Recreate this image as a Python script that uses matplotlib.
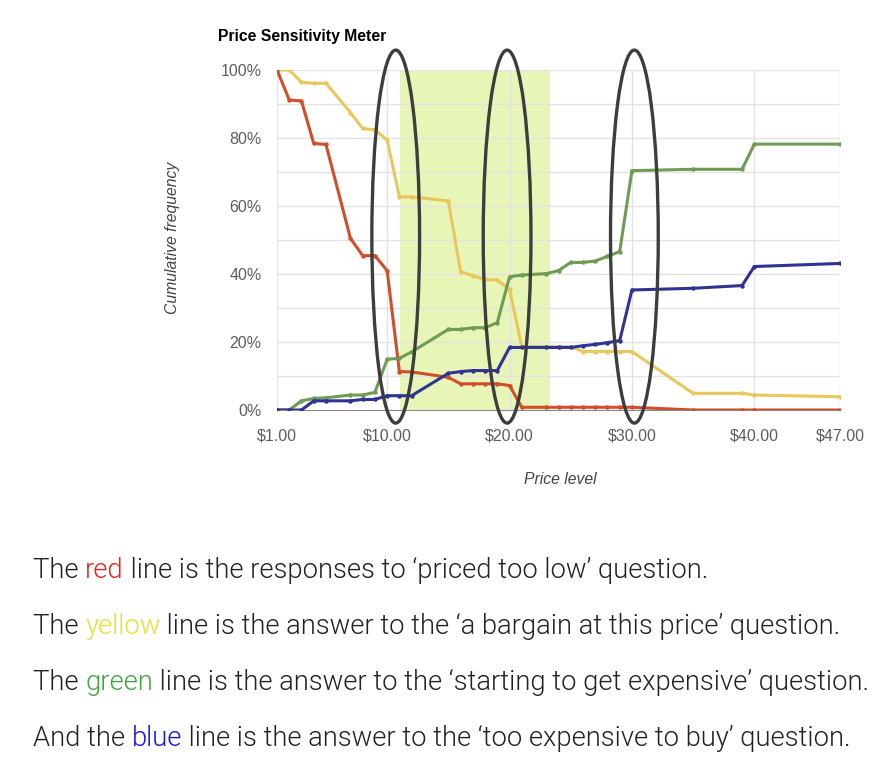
import matplotlib
matplotlib.use('Agg')
import matplotlib.pyplot as plt
from matplotlib.patches import Ellipse
import numpy as np

# Price levels ($) and cumulative frequency (%) per question
price = [1, 2, 3, 4, 5, 7, 8, 9, 10, 11, 12, 15, 16, 17, 18, 19, 20, 21,
         23, 24, 25, 26, 27, 28, 29, 30, 35, 39, 40, 47]
too_low = [100, 91.2, 90.9, 78.4, 78.1, 50.5, 45.4, 45.4, 41.0, 11.3, 11.2,
           9.6, 7.7, 7.7, 7.7, 7.7, 7.2, 0.8, 0.8, 0.8, 0.8, 0.8, 0.8, 0.8,
           0.8, 0.8, 0, 0, 0, 0]
bargain = [100, 100, 96.4, 96.1, 96.1, 87.5, 82.8, 82.4, 79.4, 62.7, 62.7,
           61.5, 40.7, 39.5, 38.4, 38.2, 35.5, 18.6, 18.6, 18.6, 18.6, 17.2,
           17.2, 17.2, 17.2, 17.2, 4.9, 4.9, 4.4, 3.9]
getting_exp = [0, 0, 2.7, 3.4, 3.6, 4.4, 4.4, 5.2, 14.9, 15.2, 17.1, 23.7,
               23.7, 24.2, 24.2, 25.7, 39.2, 39.7, 40.1, 41.0, 43.4, 43.4,
               43.8, 45.2, 46.6, 70.4, 70.8, 70.8, 78.2, 78.2]
too_exp = [0, 0, 0, 2.7, 2.7, 2.7, 3.1, 3.1, 4.2, 4.2, 4.2, 10.8, 11.3, 11.6,
           11.6, 11.6, 18.4, 18.4, 18.4, 18.4, 18.4, 18.9, 19.3, 19.8, 20.4,
           35.3, 35.8, 36.6, 42.2, 43.1]

xticks = [1, 10, 20, 30, 40, 47]
yticks = [0, 20, 40, 60, 80, 100]
band = (11.05, 23.3)
circled = [10.7, 19.8, 30.2]

fig = plt.figure(figsize=(8.9, 7.68), dpi=100)
ax = fig.add_axes([277/890, 1 - 410/768, 563/890, 340/768])

ax.axvspan(band[0], band[1], color='#e7f5b6', zorder=1, lw=0)

series = [(bargain, '#e9c75c'), (too_low, '#cf4f2b'),
          (getting_exp, '#6f9b55'), (too_exp, '#2f3393')]
for vals, col in series:
    ax.plot(price, vals, color=col, lw=2.2, marker='o', ms=2.2, zorder=3)

for cx in circled:
    e = Ellipse((cx, 51), 3.9, 109.7, fill=False, ec='#3d3d3d', lw=2.4,
                zorder=5, clip_on=False)
    ax.add_patch(e)

ax.set_xlim(1, 47)
ax.set_ylim(0, 100)
ax.set_xticks(xticks)
ax.set_xticklabels(['$%.2f' % v for v in xticks])
ax.set_yticks(yticks)
ax.set_yticklabels(['%d%%' % v for v in yticks])
ax.set_yticks(np.arange(0, 101, 10), minor=True)
ax.grid(True, which='major', axis='x', color='#e3e3e3', lw=1, zorder=0)
ax.grid(True, which='both', axis='y', color='#e3e3e3', lw=1, zorder=0)
for s in ['top', 'right', 'left']:
    ax.spines[s].set_visible(False)
ax.spines['bottom'].set_color('#8a8a8a')
ax.tick_params(which='both', length=0, labelsize=11.5, colors='#5e5e5e')
ax.tick_params(axis='x', pad=13)
ax.tick_params(axis='y', pad=11)
for lab in ax.get_xticklabels() + ax.get_yticklabels():
    lab.set_family('Liberation Sans')

fig.text(218/890, 1 - 37/768, 'Price Sensitivity Meter', fontsize=11.3,
         fontweight='bold', family='Liberation Sans', va='center', ha='left')
fig.text(172/890, 1 - 238/768, 'Cumulative frequency', rotation=90,
         fontsize=11.3, style='italic', family='Liberation Sans',
         color='#444444', va='center', ha='center')
fig.text(560/890, 1 - 479/768, 'Price level', fontsize=11.3, style='italic',
         family='Liberation Sans', color='#444444', va='center', ha='center')

# Explanation text below the chart
lines = [
    [('The ', '#222222'), ('red', '#e8231c'),
     (' line is the responses to \u2018priced too low\u2019 question.', '#222222')],
    [('The ', '#222222'), ('yellow', '#e2e236'),
     (' line is the answer to the \u2018a bargain at this price\u2019 question.', '#222222')],
    [('The ', '#222222'), ('green', '#3fa53f'),
     (' line is the answer to the \u2018starting to get expensive\u2019 question.', '#222222')],
    [('And the ', '#222222'), ('blue', '#1515e6'),
     (' line is the answer to the \u2018too expensive to buy\u2019 question.', '#222222')],
]
text_y = [570, 627, 683, 739]
body_font = dict(family='Roboto', fontweight=300)

renderer = fig.canvas.get_renderer()
# size the body text so the longest line spans about 837 px
probe = fig.text(0, 0, ''.join(s for s, _ in lines[2]), fontsize=18, **body_font)
size = 18 * 837 / probe.get_window_extent(renderer).width
probe.remove()

for segs, ypix in zip(lines, text_y):
    xpix = 33
    for txt, col in segs:
        t = fig.text(xpix/890, 1 - ypix/768, txt, fontsize=size, color=col,
                     va='center', ha='left', **body_font)
        xpix += t.get_window_extent(renderer).width

fig.savefig('out.png', dpi=100)
